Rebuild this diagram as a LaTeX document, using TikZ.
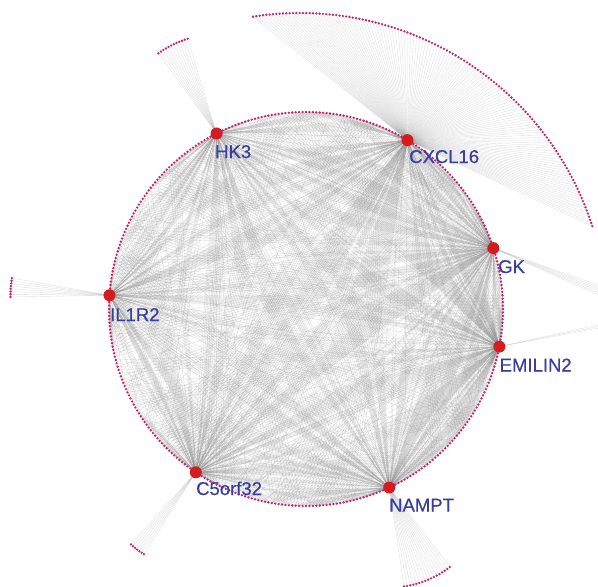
\documentclass[tikz,border=0pt]{standalone}
\usepackage{fontspec}
\setmainfont{Liberation Sans}
\newfontfamily\labfont{Liberation Sans}[FakeBold=0.5]
\pgfdeclarelayer{bg}
\pgfsetlayers{bg,main}
\definecolor{dotc}{RGB}{200,35,105}
\definecolor{hubc}{RGB}{212,28,32}
\definecolor{labc}{RGB}{58,62,158}
\definecolor{edgec}{RGB}{140,140,140}
\newcount\myhv
\newcount\myht
\newcount\mych
\newcount\mycv
\begin{document}
\begin{tikzpicture}[x=1pt,y=-1pt,
  dot/.style={circle,fill=dotc,inner sep=0pt,minimum size=2.6pt},
  hub/.style={circle,fill=hubc,inner sep=0pt,minimum size=12pt},
  lab/.style={text=labc,font=\labfont\fontsize{18.5}{18.5}\selectfont,anchor=base west,inner sep=0pt},
  edge/.style={draw=edgec,draw opacity=0.25,line width=0.42pt}]
\useasboundingbox (0,0) rectangle (598,587);
\clip (0,0) rectangle (598,587);
% inner ring of genes
\foreach \k in {0,...,359} {
  \node[dot] (d\k) at ({306+197*cos(\k)},{309-197*sin(\k)}) {};
}
% outer fans
\foreach \j in {0,...,11} {
  \node[dot] (fh\j) at ({216.56+99*cos(107+\j*1.72)},{133.47-99*sin(107+\j*1.72)}) {};
}
\foreach \j in {0,...,7} {
  \node[dot] (fi\j) at ({109.47+99*cos(170+\j*1.57)},{295.26-99*sin(170+\j*1.57)}) {};
}
\foreach \j in {0,...,6} {
  \node[dot] (fc\j) at ({195.84+97*cos(228+\j*1.6)},{472.32-97*sin(228+\j*1.6)}) {};
}
\foreach \j in {0,...,16} {
  \node[dot] (fn\j) at ({389.25+100*cos(278.5+\j*1.8)},{487.54-100*sin(278.5+\j*1.8)}) {};
}
\foreach \j in {0,...,130} {
  \node[dot] (fx\j) at ({300+307*cos(17.8+\j*0.623)},{320-307*sin(17.8+\j*0.623)}) {};
}
\foreach \j in {0,...,5} {
  \coordinate (fg\j) at ({493.36+140*cos(-19.5-\j*0.9)},{248.12-140*sin(-19.5-\j*0.9)});
}
\foreach \j in {0,...,2} {
  \coordinate (fe\j) at ({499.38+130*cos(10.6+\j*0.9)},{346.59-130*sin(10.6+\j*0.9)});
}
% hubs
\node[hub] (HK3) at (216.56,133.47) {};
\node[hub] (CXCL16) at (407.46,140.14) {};
\node[hub] (GK) at (493.36,248.12) {};
\node[hub] (EMILIN2) at (499.38,346.59) {};
\node[hub] (IL1R2) at (109.47,295.26) {};
\node[hub] (C5orf32) at (195.84,472.32) {};
\node[hub] (NAMPT) at (389.25,487.54) {};
% labels
\node[lab] (lHK3) at (215,158) {HK3};
\node[lab] (lCXCL16) at (409,163) {CXCL16};
\node[lab] (lGK) at (498,273) {GK};
\node[lab] (lEMILIN2) at (499.5,371.5) {EMILIN2};
\node[lab] (lIL1R2) at (110,321) {IL1R2};
\node[lab] (lC5orf32) at (196,495) {C5orf32};
\node[lab] (lNAMPT) at (389,511.5) {NAMPT};
% edges
\begin{pgfonlayer}{bg}
\foreach \h/\ha/\p/\q in {HK3/117/36/14, CXCL16/59/48/18, GK/18/45/16, EMILIN2/349/46/16, IL1R2/176/34/14, C5orf32/236/38/14, NAMPT/295/40/15} {
  \foreach \k in {0,...,359} {
    % chunk-level choice (bands of consecutive genes)
    \global\mych=\k
    \global\divide\mych by 5
    \global\mycv=\numexpr \mych*\mych*31 + \mych*577 + \ha*811 + \mych*\ha*7 \relax
    \global\myht=\mycv
    \global\divide\myht by 101
    \global\multiply\myht by 101
    \global\advance\mycv by -\myht
    % gene-level choice
    \global\myhv=\numexpr \k*\k*29 + \k*1103 + \ha*7919 + \k*\ha*13 \relax
    \global\myht=\myhv
    \global\divide\myht by 997
    \global\multiply\myht by 997
    \global\advance\myhv by -\myht
    \ifnum\mycv<\p
      \draw[edge] (\h.center) -- (d\k.center);
    \else
      \ifnum\myhv<\numexpr\q*10\relax
        \draw[edge] (\h.center) -- (d\k.center);
      \fi
    \fi
  }
}
\foreach \j in {0,...,11} { \draw[edge] (HK3.center) -- (fh\j.center); }
\foreach \j in {0,...,7} { \draw[edge] (IL1R2.center) -- (fi\j.center); }
\foreach \j in {0,...,6} { \draw[edge] (C5orf32.center) -- (fc\j.center); }
\foreach \j in {0,...,16} { \draw[edge] (NAMPT.center) -- (fn\j.center); }
\foreach \j in {0,...,130} { \draw[edge] (CXCL16.center) -- (fx\j.center); }
\foreach \j in {0,...,5} { \draw[edge] (GK.center) -- (fg\j); }
\foreach \j in {0,...,2} { \draw[edge] (EMILIN2.center) -- (fe\j); }
\end{pgfonlayer}
\end{tikzpicture}
\end{document}
